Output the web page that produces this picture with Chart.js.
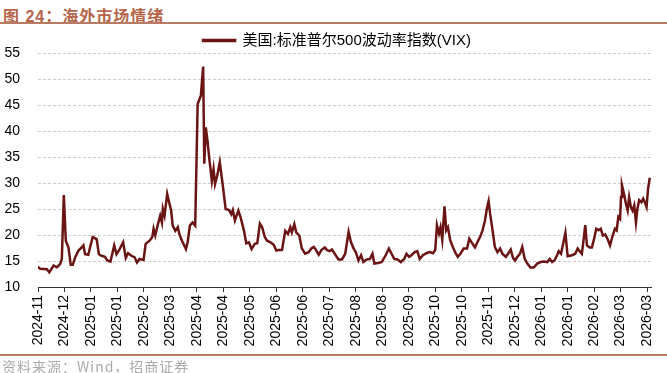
<!DOCTYPE html>
<html>
<head>
<meta charset="utf-8">
<script src="https://cdn.jsdelivr.net/npm/chart.js@4"></script>
<style>
    body { margin: 0; background: #fff; }
    .wrap { position: relative; width: 667px; height: 373px; overflow: hidden; font-family: "Liberation Sans", Arial, "Noto Sans CJK SC", sans-serif; }
    .title { position: absolute; left: 3px; top: 3px; font-size: 16px; font-weight: bold; color: #b5654a; font-family: "Liberation Sans", "Noto Sans CJK SC", sans-serif; letter-spacing: 1px; }
    .rule { position: absolute; left: 0; width: 667px; height: 2px; background: #b77a62; }
    .source { position: absolute; left: 2px; top: 356px; font-size: 14px; color: #aaa; font-family: "Noto Sans CJK SC", sans-serif; letter-spacing: 1px; }
    canvas { position: absolute; left: 0; top: 0; }
</style>
</head>
<body>
<div class="wrap">
    <div class="title">图 24：海外市场情绪</div>
    <div class="rule" style="top: 22px;"></div>
    <canvas id="chart-vix" width="667" height="373"></canvas>
    <div class="rule" style="top: 354px;"></div>
    <div class="source">资料来源：Wind，招商证券</div>
</div>
<script>
// x轴标签 (每14个交易日一个)
const tickLabels = ["2024-11", "2024-12", "2025-01", "2025-01", "2025-02", "2025-03", "2025-04", "2025-04",
    "2025-05", "2025-06", "2025-06", "2025-07", "2025-08", "2025-08", "2025-09", "2025-10", "2025-10",
    "2025-11", "2025-12", "2026-01", "2026-01", "2026-02", "2026-03", "2026-03"];
const tickStep = 14;

// 交易日序号
const days = [0, 1.2, 4.7, 6, 8.2, 10, 11.7, 12.6, 13.65, 14.7, 16.1, 17.3, 18.4, 19.6, 21.4, 23.1, 24, 24.9, 26.6, 27.5,
    28.9, 31, 32.2, 33.6, 35.4, 36.6, 38.3, 40.3, 41.5, 42.9, 45, 46.4, 47.6, 49.4, 51.1, 52.3, 53.7, 55.8, 56.9, 59,
    60.4, 61.1, 62, 63.4, 64.6, 65.5, 66, 66.9, 68.3, 69.5, 70.4, 71.2, 72.6, 73.9, 74.7, 76.1, 78.2, 79.1, 80.3, 81.7,
    83.1, 84.4, 86.1, 87.3, 87.9, 88.7, 89.6, 90.5, 91.9, 92.8, 93.6, 94.9, 96.1, 97.8, 99.2, 101, 102.2, 103, 104.1, 105.9,
    107.1, 108.9, 110.1, 111.5, 112.9, 114.6, 115.9, 117.3, 118.5, 119.9, 121.1, 122.9, 124.6, 126, 127.2, 129, 130.7, 132.1, 133.4, 134.2,
    135.5, 136.5, 138.1, 139.5, 141.2, 143.1, 144.5, 145.8, 147, 148.4, 149.8, 151.6, 152.8, 154.2, 155.4, 157.2, 158.9, 160.7, 162.4, 164.2,
    165.4, 166.8, 168, 169.4, 170.8, 172, 173.8, 175.5, 176.8, 177.8, 179.9, 181.7, 183.8, 185.5, 186.9, 188.3, 190, 191.8, 193.6, 194.8,
    196.2, 197.4, 199.2, 200.5, 201.8, 203.5, 205.3, 207, 208.8, 210, 210.9, 212, 212.8, 213.7, 214.9, 215.8, 216.7, 217.9, 219.3, 220.5,
    221.9, 223.3, 225, 226.8, 228, 229.4, 231, 232.4, 233.8, 235, 236.3, 237.3, 238.2, 239, 240.3, 241.5, 242.9, 244.3, 245.5, 247.3,
    248.5, 249.9, 251.1, 252.2, 253.4, 254.8, 256, 257.3, 258.7, 260.4, 262.2, 263.9, 265.7, 267.4, 269.2, 270.5, 271.8, 273, 274.4, 275.3,
    276.5, 277.6, 278.8, 280, 282.3, 284, 285.3, 286.3, 287.5, 288.4, 289.3, 290.2, 291.6, 292.8, 294, 295.1, 296.3, 297.5, 298.6, 299.8,
    301, 302.4, 303.8, 305, 305.9, 306.8, 307.7, 308.2, 308.7, 309.8, 310.8, 311.7, 312.5, 313.4, 314.3, 315.2, 316.1, 316.9, 317.8, 319,
    319.9, 320.8, 321.7, 322.5, 323.4];

// VIX 数值
const vixValues = [13.9, 13.5, 13.4, 12.8, 14.1, 13.8, 14.4, 15.4, 27.7, 18.9, 17.6, 14.3, 14.3, 15.7, 17.0, 17.6, 18, 16.3, 16.2, 17.6,
    19.6, 19.2, 16.3, 16.0, 15.8, 15.1, 14.9, 18, 16.3, 17.1, 18.6, 15.6, 16.5, 16, 15.7, 14.7, 15.4, 15.2, 18.3, 18.9,
    19.6, 21.2, 19.9, 22.1, 23.7, 22.4, 25, 23.7, 27.9, 26, 24.7, 21.8, 20.8, 21.5, 20.2, 18.9, 17.3, 18.6, 21.8, 22.4,
    21.8, 45.2, 46.8, 52.4, 33.7, 40.7, 38.1, 34.9, 30.4, 32.7, 29.8, 31.7, 34, 29.2, 25, 24.8, 24, 24.8, 22.8, 24.7,
    23.4, 20.8, 18.4, 18.6, 17.3, 18.3, 18.4, 22.2, 21.5, 19.6, 18.9, 18.6, 18.1, 17, 17.1, 17.1, 20.8, 20.2, 21.5, 20.5,
    22.1, 20.5, 19.9, 17.4, 16.4, 16.7, 17.4, 17.7, 17.1, 16.2, 17.1, 17.6, 17.1, 16.9, 17.2, 16.2, 15.3, 15.3, 16.4, 20.6,
    18.7, 17.4, 16.7, 15.1, 16.1, 14.8, 15.3, 15.4, 16.4, 14.5, 14.6, 14.8, 16.1, 17.4, 16.4, 15.4, 15.3, 14.8, 15.4, 16.4,
    15.8, 16.1, 16.7, 16.9, 15.4, 16.1, 16.5, 16.7, 16.5, 17.1, 21.9, 20.3, 21.5, 19.1, 25.5, 20.9, 21.5, 19, 17.7, 16.7,
    15.8, 16.4, 17.4, 17.4, 19.3, 18.5, 17.6, 18.7, 19.7, 20.9, 22.8, 25.1, 26.5, 24.1, 20.9, 17.7, 16.7, 17.4, 16.4, 15.8,
    16.4, 17.2, 15.6, 15.1, 15.8, 16.4, 17.7, 15.4, 14.5, 13.7, 13.8, 14.5, 14.8, 14.9, 14.8, 15.4, 14.8, 15.1, 16.1, 16.9,
    16.4, 18.3, 20.4, 15.9, 16.1, 16.4, 17.4, 16.9, 16.4, 19, 21.9, 18, 17.6, 17.6, 19.3, 21.2, 20.9, 21.2, 19.9, 20.1,
    19.3, 18, 19.9, 21.2, 20.9, 23.5, 23.1, 27.3, 29.6, 27.9, 26, 24.7, 27.3, 25.4, 24.7, 25.7, 22.4, 25.1, 26.7, 26.3,
    27, 26.3, 25.4, 28.9, 31.0];

// y轴
const yMin = 10;
const yMax = 55;
const yStep = 5;

const seriesName = "美国:标准普尔500波动率指数(VIX)";
const lineColor = "#6b1414";

const points = days.map((d, i) => ({ x: d, y: vixValues[i] }));

// 图例位置微调
const legendOffset = {
    id: 'legendOffset',
    afterLayout: function (chart) {
        const lg = chart.legend;
        lg.top += 5;
        lg.bottom += 5;
        lg.left += 9;
        lg.right += 9;
    }
};

const config_line = {
    type: 'line',
    data: {
        datasets: [{
            label: seriesName,
            data: points,
            borderColor: lineColor,
            backgroundColor: lineColor,
            borderWidth: 2.5,
            pointRadius: 0,
            tension: 0
        }]
    },
    plugins: [legendOffset],
    options: {
        responsive: false,
        animation: false,
        layout: {
            padding: { left: 0, right: 11, top: 25, bottom: 16 }
        },
        scales: {
            x: {
                type: 'linear',
                min: 0,
                max: 324.5,
                afterBuildTicks: function (scale) {
                    scale.ticks = tickLabels.map((_, k) => ({ value: k * tickStep }));
                },
                afterFit: function (scale) {
                    scale.height = 70;
                },
                border: { display: true, color: '#333', width: 1 },
                grid: {
                    drawOnChartArea: false,
                    drawTicks: true,
                    tickLength: 5,
                    tickColor: '#333'
                },
                ticks: {
                    autoSkip: false,
                    minRotation: 90,
                    maxRotation: 90,
                    padding: 3,
                    color: '#000',
                    font: { family: 'Liberation Sans', size: 14 },
                    callback: function (value) {
                        return tickLabels[Math.round(value / tickStep)];
                    }
                }
            },
            y: {
                min: yMin,
                max: yMax,
                afterFit: function (scale) {
                    scale.width = 38;
                },
                border: { display: false, dash: [3, 2] },
                grid: {
                    drawTicks: false,
                    color: function (ctx) {
                        return ctx.tick && ctx.tick.value === yMin ? 'rgba(0,0,0,0)' : '#cccccc';
                    },
                    lineWidth: 1
                },
                ticks: {
                    stepSize: yStep,
                    padding: 18,
                    color: '#000',
                    font: { family: 'Liberation Sans', size: 14 }
                }
            }
        },
        plugins: {
            legend: {
                display: true,
                position: 'top',
                labels: {
                    boxWidth: 32,
                    boxHeight: 1,
                    padding: 3,
                    color: '#000',
                    font: { family: "'Liberation Sans', 'Noto Sans CJK SC'", size: 15 }
                }
            },
            tooltip: { enabled: false }
        }
    }
};

const vixChart = new Chart(document.getElementById("chart-vix"), config_line);
</script>
</body>
</html>
